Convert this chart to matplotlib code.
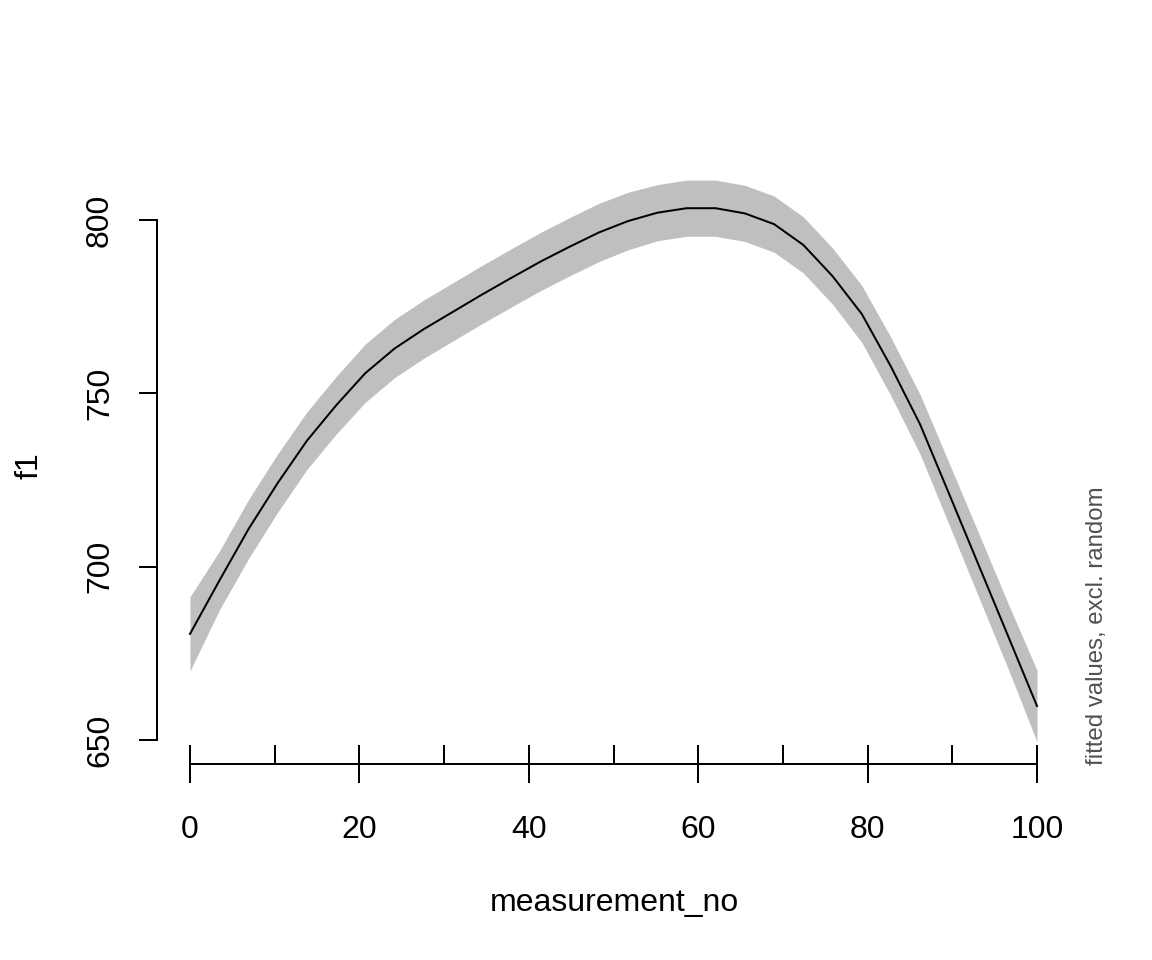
import numpy as np
import matplotlib
matplotlib.use("Agg")
import matplotlib.pyplot as plt
from matplotlib.ticker import FixedLocator

plt.rcParams['font.family'] = ['Liberation Sans', 'DejaVu Sans']

# ---- data ----
measurement_no = np.linspace(0, 100, 30)
fit = [680.6, 695.9, 710.8, 724.1, 736.3, 746.5, 755.8, 762.9, 768.5, 773.5,
       778.5, 783.3, 788.0, 792.3, 796.4, 799.7, 802.1, 803.4, 803.4, 801.9,
       798.8, 792.8, 783.8, 772.9, 757.7, 741.0, 720.8, 700.5, 680.2, 659.8]
ci = [10.7, 8.5, 8.5, 8.4, 8.3, 8.3, 8.4, 8.4, 8.4, 8.4,
      8.4, 8.4, 8.4, 8.4, 8.4, 8.3, 8.1, 8.1, 8.1, 8.1,
      8.1, 8.1, 8.1, 8.2, 8.4, 8.6, 8.9, 9.2, 9.4, 10.3]
x_ticks = [0, 20, 40, 60, 80, 100]
x_minor = [10, 30, 50, 70, 90]
y_ticks = [650, 700, 750, 800]

fit = np.array(fit)
ci = np.array(ci)

W, H = 1152, 960
dpi = 144
fig = plt.figure(figsize=(W / dpi, H / dpi), dpi=dpi)
ax = fig.add_axes([157 / W, 1 - 764 / H, 913 / W, (764 - 168) / H])

ax.fill_between(measurement_no, fit - ci, fit + ci, color='#BFBFBF', lw=0)
ax.plot(measurement_no, fit, color='black', lw=1.0)

ax.set_xlim(-3.896, 103.896)
ax.set_ylim(643.08, 815.0)

for s in ['top', 'right']:
    ax.spines[s].set_visible(False)
ax.spines['left'].set_bounds(650, 800)
ax.spines['bottom'].set_bounds(0, 100)
for s in ['left', 'bottom']:
    ax.spines[s].set_linewidth(1.0)

ax.set_xticks(x_ticks)
ax.set_xticklabels([str(v) for v in x_ticks])
ax.xaxis.set_minor_locator(FixedLocator(x_minor))
ax.tick_params(axis='x', which='major', direction='inout', length=19, width=1.0,
               labelsize=16, pad=16)
ax.tick_params(axis='x', which='minor', direction='in', length=9.5, width=1.0)

ax.set_yticks(y_ticks)
ax.set_yticklabels([str(v) for v in y_ticks], rotation=90, va='center')
ax.tick_params(axis='y', which='major', direction='out', length=9, width=1.0,
               labelsize=16, pad=12)

fig.text(614 / W, 1 - 903 / H, 'measurement_no', ha='center', va='center', fontsize=16)
fig.text(30 / W, 1 - 466 / H, 'f1', ha='center', va='center', fontsize=16, rotation=90)
fig.text(1097 / W, 1 - 765 / H, 'fitted values, excl. random', ha='center', va='bottom',
         fontsize=12, rotation=90, color='#505050')

fig.savefig('out.png', dpi=dpi)
